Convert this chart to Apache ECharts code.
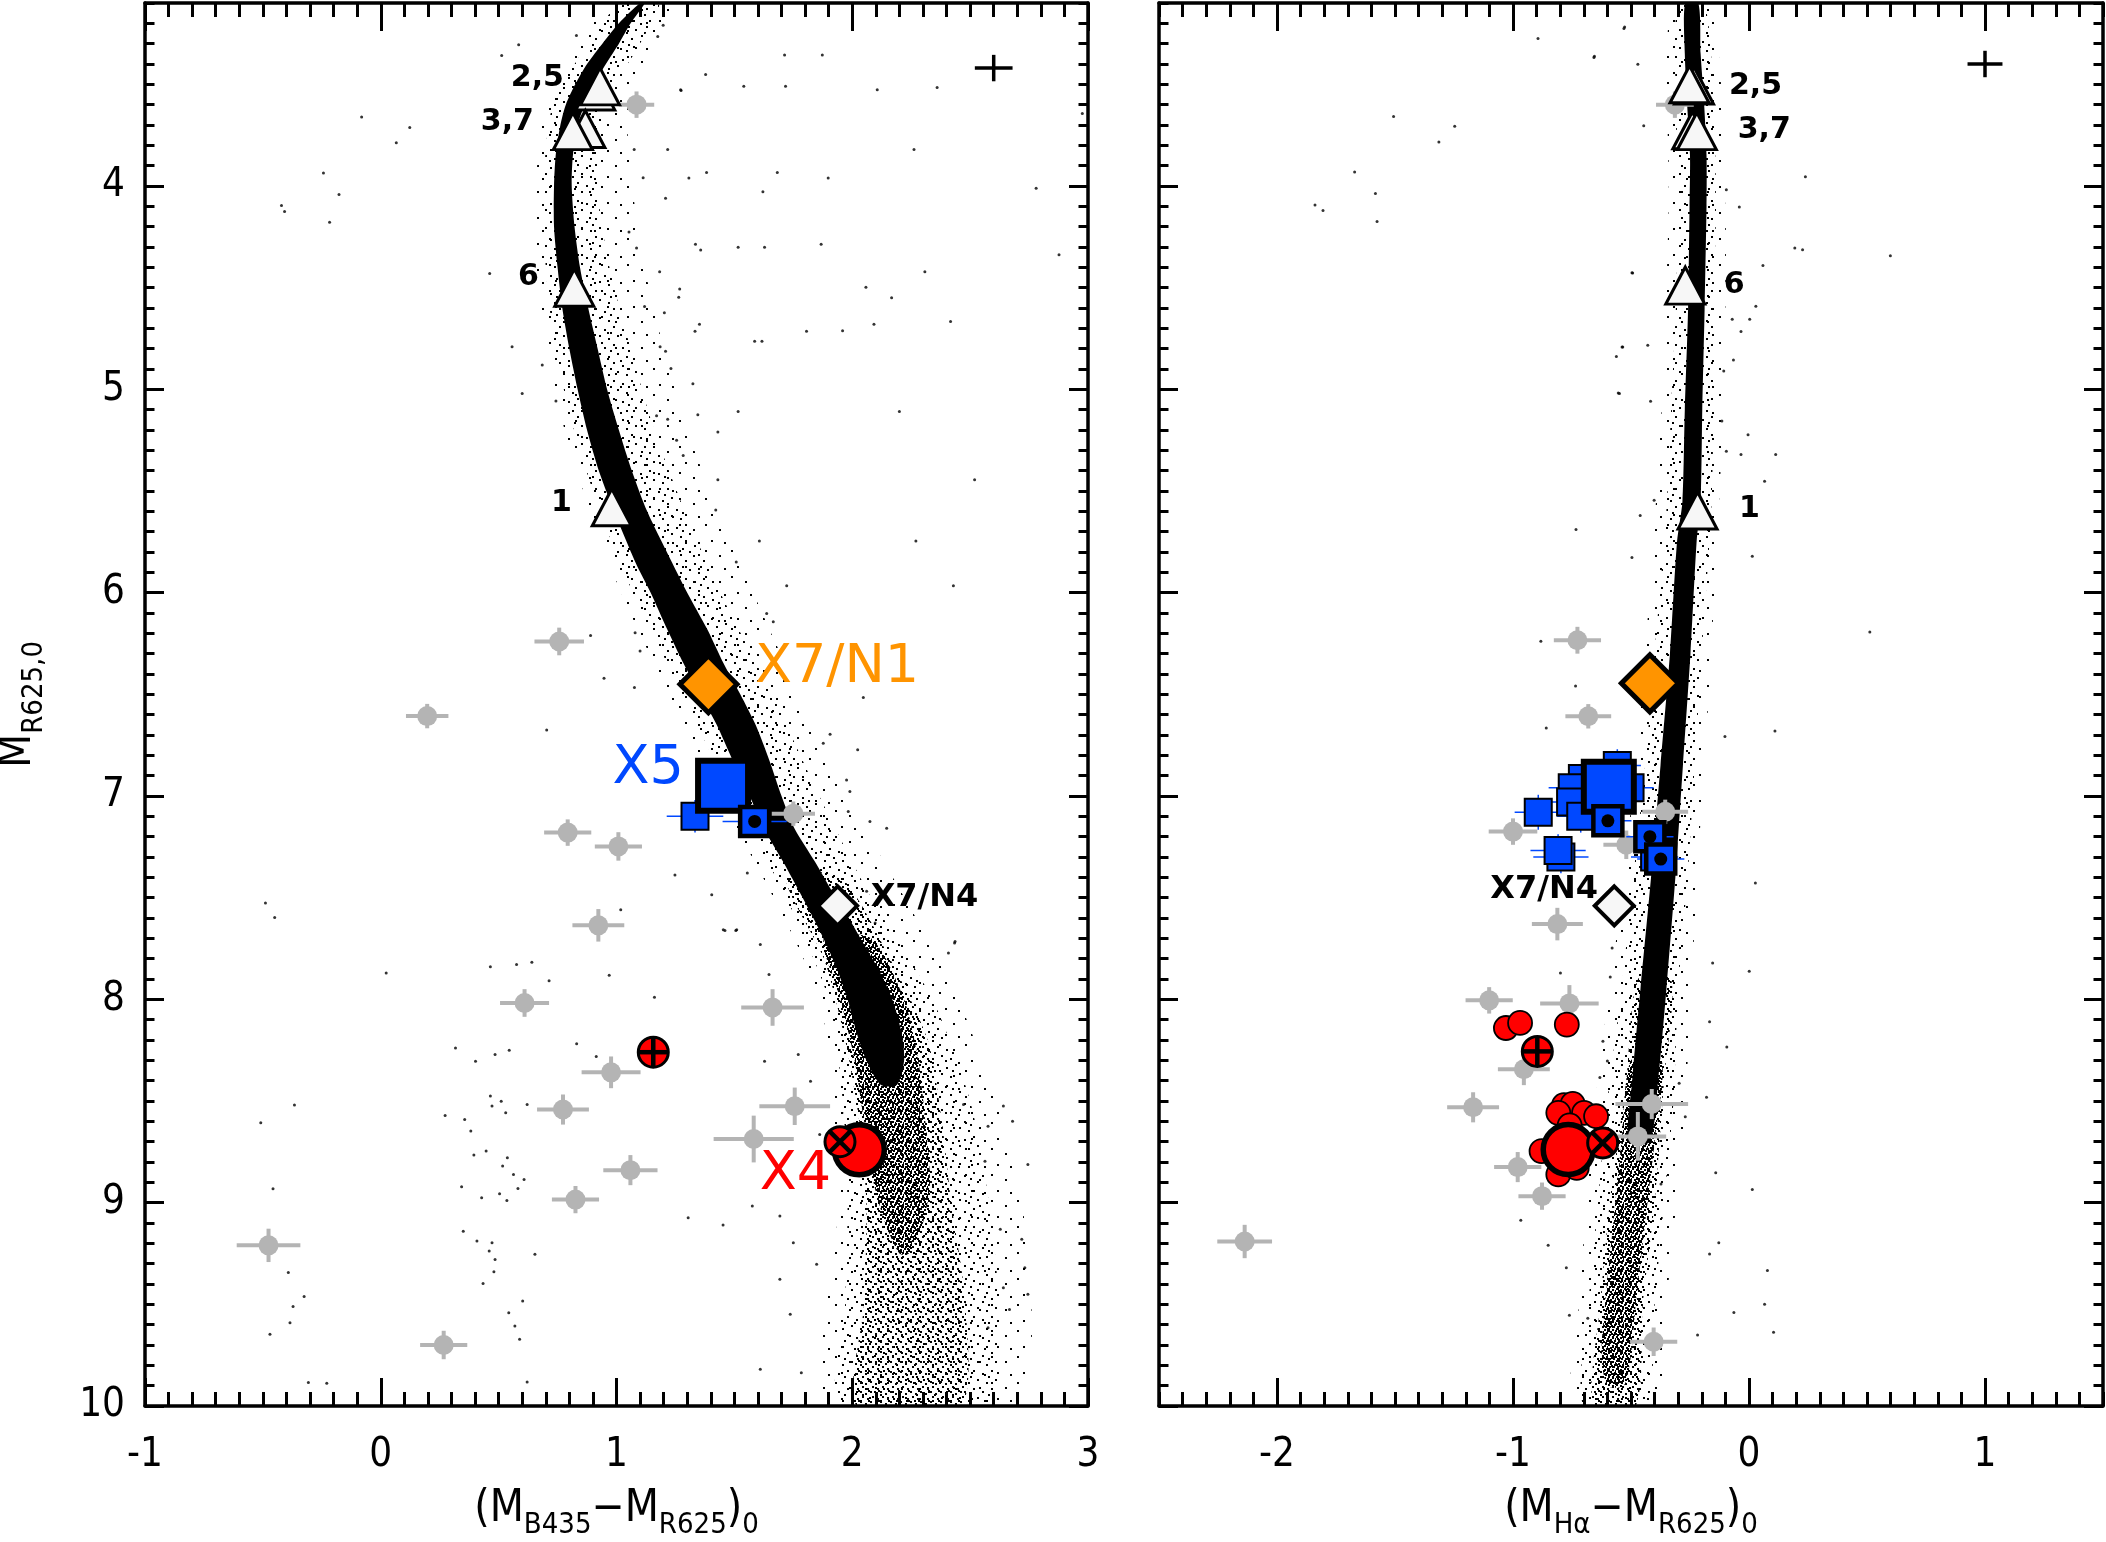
<!DOCTYPE html>
<html><head><meta charset="utf-8">
<script src="https://cdn.jsdelivr.net/npm/echarts@6/dist/echarts.min.js"></script>
<style>html,body{margin:0;padding:0;background:#fff}#c{width:2106px;height:1542px}</style>
</head><body><div id="c"></div>
<script>
// ---------------- DATA ----------------
const LEFT_X_TICKS = [-1, 0, 1, 2, 3];
const RIGHT_X_TICKS = [-2, -1, 0, 1];
const Y_TICKS = [4, 5, 6, 7, 8, 9, 10];

// Main-sequence ridge (solid core) edges, left panel: y, left x, right x
const coreY_L  = [3.10,3.20,3.30,3.40,3.50,3.60,3.70,3.85,4.00,4.20,4.40,4.60,4.80,5.00,5.20,5.40,5.60,5.85,6.00,6.18,6.35,6.50,6.65,6.83,7.00,7.16,7.32,7.49,7.60,7.73,7.85,8.00,8.17,8.30,8.42];
const coreLx_L = [1.10,1.01,0.94,0.875,0.825,0.785,0.762,0.742,0.735,0.735,0.75,0.77,0.80,0.835,0.875,0.925,0.99,1.08,1.145,1.215,1.285,1.355,1.425,1.495,1.565,1.625,1.705,1.785,1.835,1.89,1.935,1.98,2.02,2.06,2.12];
const coreRx_L = [1.12,1.06,1.01,0.955,0.905,0.865,0.835,0.815,0.81,0.822,0.845,0.88,0.92,0.96,1.01,1.065,1.13,1.235,1.30,1.385,1.455,1.525,1.59,1.65,1.70,1.755,1.84,1.925,1.985,2.05,2.11,2.17,2.21,2.22,2.19];
// dense (grainy) lower part
const denseY_L  = [7.70,8.00,8.30,8.60,8.90,9.10,9.25];
const denseLx_L = [1.88,1.95,2.01,2.05,2.09,2.14,2.20];
const denseRx_L = [2.08,2.22,2.28,2.31,2.33,2.30,2.24];
// medium-density lower part
const midY_L  = [7.40,7.80,8.20,8.60,9.00,9.50,10.0];
const midLx_L = [1.72,1.88,1.97,2.03,2.06,2.05,2.02];
const midRx_L = [1.95,2.16,2.32,2.38,2.42,2.48,2.46];
// sparse envelopes
const haloY_L  = [3.10,3.30,3.60,4.00,4.40,4.80,5.20,5.60,6.00,6.50,7.00,7.50,8.00,8.50,9.00,9.50,10.0];
const haloLx_L = [1.02,0.88,0.73,0.69,0.70,0.74,0.82,0.93,1.07,1.28,1.49,1.72,1.90,1.96,1.98,1.97,1.95];
const haloRx_L = [1.18,1.10,0.95,0.92,0.97,1.06,1.16,1.29,1.44,1.66,1.86,2.08,2.34,2.50,2.58,2.62,2.58];
const outerY_L  = [3.10,3.60,4.40,5.20,6.00,7.00,8.00,9.00,10.0];
const outerLx_L = [0.98,0.70,0.66,0.78,1.02,1.44,1.86,1.94,1.90];
const outerRx_L = [1.25,1.05,1.12,1.30,1.58,1.98,2.45,2.72,2.70];

// right panel
const coreY_R  = [3.10,3.35,3.60,3.85,4.10,4.60,5.10,5.55,5.75,6.30,6.85,7.40,7.95,8.40,8.70];
const coreLx_R = [-0.27,-0.272,-0.262,-0.25,-0.252,-0.258,-0.272,-0.282,-0.305,-0.335,-0.375,-0.415,-0.46,-0.495,-0.51];
const coreRx_R = [-0.215,-0.205,-0.19,-0.18,-0.18,-0.188,-0.198,-0.205,-0.222,-0.248,-0.28,-0.312,-0.35,-0.385,-0.42];
const denseY_R  = [8.30,8.70,9.10,9.50,9.75,9.90];
const denseLx_R = [-0.50,-0.54,-0.575,-0.61,-0.625,-0.60];
const denseRx_R = [-0.37,-0.40,-0.44,-0.48,-0.50,-0.53];
const midY_R  = [7.90,8.40,9.00,9.50,10.0];
const midLx_R = [-0.47,-0.52,-0.59,-0.63,-0.66];
const midRx_R = [-0.33,-0.36,-0.40,-0.45,-0.48];
const haloY_R  = [3.10,3.60,4.10,4.60,5.10,5.60,6.30,6.85,7.40,7.95,8.50,9.00,9.50,10.0];
const haloLx_R = [-0.30,-0.31,-0.30,-0.31,-0.33,-0.35,-0.40,-0.44,-0.49,-0.54,-0.60,-0.64,-0.68,-0.70];
const haloRx_R = [-0.19,-0.15,-0.14,-0.15,-0.15,-0.16,-0.20,-0.23,-0.26,-0.30,-0.32,-0.36,-0.40,-0.44];
const outerY_R  = [3.10,4.10,5.10,6.30,7.40,8.50,9.50,10.0];
const outerLx_R = [-0.33,-0.34,-0.37,-0.44,-0.53,-0.65,-0.72,-0.74];
const outerRx_R = [-0.16,-0.10,-0.11,-0.16,-0.22,-0.27,-0.35,-0.40];

// individual field stars
const fieldDots_L = [
 [-0.081,3.661],[0.123,3.712],[0.066,3.787],[-0.243,3.936],[-0.177,4.042],[-0.421,4.096],[-0.408,4.125],[-0.217,4.178],
 [0.462,4.43],[0.557,4.79],[0.60,5.02],[0.685,4.88],[0.743,5.057],[0.585,3.305],[0.513,3.358],[0.83,3.26],[1.175,3.265],
 [1.198,3.21],[1.075,3.82],[1.217,3.82],[1.113,3.96],[1.208,4.06],[1.274,3.53],[1.053,4.226],[1.085,4.305],[1.268,4.507],
 [1.264,4.547],[1.119,4.593],[1.185,4.79],[1.17,5.13],[1.217,5.147],[1.283,5.326],[1.255,5.25],
 [1.713,3.356],[1.873,3.356],[1.378,3.452],[1.54,3.509],[1.717,3.509],[1.272,3.527],[2.106,3.527],[2.36,3.516],[2.976,3.644],
 [2.262,3.82],[1.382,3.934],[1.682,3.934],[1.898,3.961],[1.307,3.961],[1.621,4.028],[2.78,4.011],[1.335,4.286],[1.357,4.315],
 [1.516,4.301],[1.628,4.301],[1.868,4.286],[2.877,4.338],[2.308,4.422],[1.183,4.422],[2.058,4.498],[2.167,4.55],[2.092,4.68],
 [2.417,4.667],[1.806,4.714],[1.959,4.712],[1.586,4.763],[1.617,4.763],[1.352,4.68],[1.333,4.714],[1.203,4.623],[1.208,4.813],
 [1.231,4.897],[1.324,4.972],[1.516,5.109],[2.2,5.109],[1.43,5.21],[1.345,5.125],[1.43,5.445],[2.519,5.445],[1.421,5.593],
 [1.606,5.746],[2.27,5.746],[1.508,5.849],
 [0.89,6.211],[0.947,6.421],[1.076,6.467],[0.704,6.675],[1.079,6.197],[1.10,6.287],[1.637,6.102],[1.665,6.143],[1.722,5.966],
 [2.429,5.966],[2.047,6.516],[1.906,6.696],[1.877,6.74],[2.023,6.773],[1.976,6.921],[1.99,6.978],[2.075,7.125],[2.146,7.158],
 [1.983,7.076],[2.061,7.469],[1.976,7.486],[2.097,7.625],[2.436,7.715],[1.248,7.388],[1.453,7.658],[1.51,7.658],[1.555,7.379],
 [1.018,7.559],[1.404,7.486],
 [-0.489,7.526],[-0.45,7.597],[0.023,7.87],[0.465,7.84],[0.576,7.829],[0.641,7.818],[0.714,7.908],[0.969,7.882],[1.161,7.99],
 [1.46,7.662],[1.506,7.662],[1.61,7.73],[1.647,7.878],[0.317,8.239],[0.402,8.304],[0.485,8.271],[0.545,8.25],[0.831,8.219],
 [0.914,8.281],[0.465,8.476],[0.511,8.501],[0.472,8.525],[0.53,8.558],[0.621,8.517],[0.273,8.571],[0.356,8.591],[0.382,8.648],
 [0.447,8.746],[0.395,8.766],[0.537,8.779],[0.517,8.82],[0.563,8.861],[0.608,8.886],[0.582,8.93],[0.504,8.956],[0.428,8.976],
 [0.343,8.922],[0.535,8.989],[-0.366,8.52],[-0.509,8.607],[-0.457,8.932],[-0.392,9.344],[-0.325,9.462],[-0.372,9.511],
 [-0.385,9.59],[-0.47,9.647],[0.35,9.14],[0.408,9.189],[0.472,9.197],[0.46,9.238],[0.485,9.279],[0.654,9.254],[0.434,9.398],
 [0.48,9.34],[0.602,9.484],[0.543,9.541],[0.569,9.606],[0.589,9.672],[0.621,9.882],[-0.307,9.885],[-0.229,9.888],[1.304,9.074],
 [1.452,9.11],[1.576,9.017],[1.693,9.066],[1.75,9.197],[1.849,9.303],[1.737,9.549],[1.693,9.377],[1.61,9.819],[1.784,9.836],
 [1.628,8.304],[1.771,8.271],[1.862,8.665],[1.823,8.403],
 [2.434,7.723],[2.408,7.772],[2.472,8.517],[2.641,8.525],[2.68,8.599],[2.576,8.624],[2.745,8.812],[2.563,8.796],[2.628,9.131],
 [2.719,9.18],[2.745,9.451],[2.667,9.525],[2.732,9.32],[2.641,9.418],[2.576,9.615]
];
const fieldDots_R = [
 [-0.894,3.274],[-0.657,3.368],[-0.53,3.226],[-1.506,3.658],[-1.247,3.706],[-1.314,3.783],[-1.671,3.931],[-1.583,4.037],
 [-1.839,4.093],[-1.805,4.121],[-1.576,4.174],[-0.496,4.427],[-0.538,4.792],[-0.562,4.838],[-0.554,5.018],[-0.733,5.689],
 [-0.496,5.827],
 [-0.527,3.218],[-0.655,3.362],[-0.471,3.401],[-0.446,3.704],[0.239,3.954],[-0.041,4.103],[-0.096,4.019],[0.194,4.305],
 [0.227,4.313],[0.599,4.343],[0.059,4.391],[-0.493,4.428],[0.029,4.591],[0.003,4.655],[-0.071,4.655],[-0.034,4.716],
 [-0.535,4.792],[-0.429,4.783],[-0.066,4.856],[-0.107,4.91],[-0.549,5.02],[-0.417,5.058],[-0.115,5.156],[-0.004,5.223],
 [0.113,5.321],[-0.034,5.321],[-0.096,5.305],[0.066,5.452],[-0.461,5.621],[-0.402,5.545],
 [0.014,5.821],[0.512,6.193],[0.11,6.68],[-0.102,6.707],[-0.882,6.239],[-0.735,6.459],[-0.859,6.666],[0.027,7.428],
 [0.001,7.862],[-0.154,7.821],[-0.58,7.747],[-0.588,7.89],[-0.799,7.871],[-0.167,8.11],[-0.094,8.234],[-0.296,8.413],
 [-0.18,8.481],[-0.27,8.578],[-0.619,8.206],[-0.6,8.303],[-0.632,8.385],[-0.851,9.21],[-0.967,9.087],[-0.141,8.853],
 [0.014,8.935],[-0.128,9.197],[-0.167,9.252],[0.078,9.334],[0.066,9.499],[-0.064,9.54],[-0.218,9.651],[0.104,9.637],
 [-0.761,9.554],[-0.683,9.568],[-0.774,9.32],[-0.373,8.908]
];

// grey comparison stars with error bars: [x, y, xerr, yerr]
const grey_L = [
 [1.085,3.60,0.075,0.065],[0.757,6.24,0.105,0.068],[0.197,6.607,0.09,0.06],[1.75,7.087,0.092,0.06],[0.793,7.18,0.10,0.065],
 [1.008,7.248,0.10,0.07],[0.923,7.636,0.11,0.08],[0.61,8.018,0.104,0.068],[1.662,8.04,0.133,0.09],[0.977,8.359,0.125,0.078],
 [0.773,8.542,0.11,0.074],[1.756,8.526,0.15,0.092],[1.582,8.687,0.17,0.115],[1.059,8.84,0.115,0.074],[0.826,8.985,0.10,0.067],
 [-0.476,9.21,0.135,0.082],[0.267,9.70,0.10,0.07]
];
const grey_R = [
 [-0.314,3.60,0.08,0.065],[-0.727,6.234,0.10,0.066],[-0.681,6.608,0.097,0.06],[-0.355,7.078,0.097,0.06],[-1.0,7.175,0.103,0.065],
 [-0.52,7.24,0.097,0.07],[-0.812,7.63,0.108,0.08],[-1.101,8.005,0.10,0.065],[-0.761,8.02,0.124,0.09],[-0.954,8.344,0.11,0.078],
 [-1.169,8.531,0.11,0.074],[-0.412,8.515,0.154,0.074],[-0.471,8.674,0.12,0.12],[-0.98,8.825,0.10,0.074],[-0.877,8.968,0.10,0.067],
 [-2.137,9.191,0.116,0.082],[-0.404,9.684,0.10,0.07]
];
// typical-error crosses (top right)
const typErr_L = [[2.60,3.42,0.08,0.065]];
const typErr_R = [[1.00,3.40,0.074,0.065]];

// blue squares (X5 counterparts)
const blueSmall_L = [[1.333,7.10,0.12,0.08]];
const blueBig_L   = [[1.452,6.95]];
const blueDot_L   = [[1.586,7.125,0.136,0.05]];
const blueSmall_R = [[-0.558,6.85,0.1,0.08],[-0.706,6.914,0.1,0.08],[-0.749,6.96,0.1,0.08],[-0.504,6.96,0.1,0.08],
 [-0.756,7.03,0.1,0.08],[-0.893,7.08,0.1,0.086],[-0.713,7.10,0.1,0.08],[-0.797,7.30,0.117,0.08],[-0.809,7.268,0.117,0.08],[-0.40,7.30,0.1,0.08]];
const blueBig_R   = [[-0.594,6.955]];
const blueDot_R   = [[-0.598,7.122,0.1,0.06],[-0.42,7.20,0.1,0.06],[-0.374,7.31,0.1,0.06]];

// red circles (X4 counterparts)
const redSmall_R = [[-1.03,8.141],[-0.97,8.116],[-0.772,8.124],[-0.784,8.52],[-0.747,8.514],[-0.808,8.558],[-0.699,8.558],
 [-0.648,8.575],[-0.76,8.62],[-0.879,8.747],[-0.808,8.861],[-0.730,8.829]];
const redPlus_L = [[1.156,8.26]];
const redPlus_R = [[-0.897,8.256]];
const redBig_L  = [[2.03,8.74]];
const redBig_R  = [[-0.766,8.739]];
const redX_L    = [[1.948,8.70]];
const redX_R    = [[-0.62,8.706]];

// triangles (numbered sources)
const tri_L = [[0.91,3.535],[0.93,3.51],[0.868,3.72],[0.815,3.73],[0.821,4.50],[0.98,5.58]];
const tri_R = [[-0.233,3.506],[-0.252,3.50],[-0.24,3.726],[-0.221,3.73],[-0.27,4.49],[-0.218,5.596]];
const triLabels_L = [['2,5',0.777,3.47],['3,7',0.65,3.685],['6',0.671,4.447],['1',0.811,5.56]];
const triLabels_R = [['2,5',-0.085,3.51],['3,7',-0.048,3.727],['6',-0.107,4.49],['1',-0.042,5.59]];

// diamonds X7/N1 (orange) and X7/N4 (white)
const orange_L = [[1.39,6.45]];
const orange_R = [[-0.42,6.446]];
const white_L  = [[1.938,7.54]];
const white_R  = [[-0.571,7.54]];

// text labels
const nameLabels_L = [['X7/N1',1.587,6.37,'right','orange'],['X5',1.286,6.865,'left','blue'],['X4',1.91,8.865,'left','red'],['X7/N4',2.078,7.50,'right','black']];
const nameLabels_R = [['X7/N4',-0.64,7.46,'left','black']];

// ---------------- STYLE / BUILD ----------------
const FONT = "'Liberation Sans Narrow','DejaVu Sans Condensed','Liberation Sans',sans-serif";
const BFONT = "'DejaVu Sans','Liberation Sans',sans-serif";
const BLUE = '#0048ff', RED = '#ff0000', ORANGE = '#ff9400', GREY = '#b4b4b4';

// stipple textures (styling only)
function stipple(size, marks) {
  const c = document.createElement('canvas'); c.width = c.height = size;
  const g = c.getContext('2d'); g.fillStyle = '#000';
  marks.forEach(m => g.fillRect(m[0], m[1], 2, 2));
  return { type: 'pattern', image: c, repeat: 'repeat' };
}
const VSPARSE = stipple(26, [[3,4],[17,9],[9,20],[22,22]]);
const SPARSE = stipple(18, [[1,2],[10,5],[5,11],[14,14],[16,8]]);
const MEDIUM = stipple(10, [[0,1],[5,3],[2,6],[7,8],[8,0]]);
const DENSE = stipple(8, [[0,0],[4,1],[2,3],[6,4],[1,6],[5,6],[3,5],[7,2]]);

function minorVals(a, b) { const o = []; for (let k = Math.round(a * 10); k <= Math.round(b * 10); k++) { if (k % 10 !== 0) o.push(k / 10); } return o; }

const nameStyle = {
  fontFamily: FONT, color: '#000', fontSize: 44,
  rich: { m: { fontFamily: FONT, fontSize: 44, lineHeight: 60, verticalAlign: 'middle', color: '#000' },
          s: { fontFamily: FONT, fontSize: 29, lineHeight: 30, verticalAlign: 'bottom', color: '#000' } }
};

function axis(kind, grid, min, max, pos, ticks, len, showLine, labels, name, inverse) {
  const a = {
    type: 'value', gridIndex: grid, min, max, position: pos, inverse: !!inverse,
    axisLine: { show: showLine, onZero: false, lineStyle: { color: '#000', width: 3.5 } },
    axisTick: { show: true, inside: true, length: len, customValues: ticks, lineStyle: { color: '#000', width: 3 } },
    axisLabel: { show: !!labels, customValues: labels || undefined, color: '#000', fontFamily: FONT, fontSize: 40,
                 margin: kind === 'x' ? 30 : 20 },
    splitLine: { show: false }
  };
  if (name) {
    a.name = name; a.nameLocation = 'middle'; a.nameTextStyle = nameStyle;
    a.nameGap = kind === 'x' ? 74 : 96;
  }
  return a;
}

const xAxes = [], yAxes = [];
function panel(grid, xmin, xmax, xTicks, xName, yLabels) {
  xAxes.push(axis('x', grid, xmin, xmax, 'bottom', xTicks, 28, true, xTicks, xName));
  xAxes.push(axis('x', grid, xmin, xmax, 'bottom', minorVals(xmin, xmax), 14, false));
  xAxes.push(axis('x', grid, xmin, xmax, 'top', xTicks, 28, true));
  xAxes.push(axis('x', grid, xmin, xmax, 'top', minorVals(xmin, xmax), 14, false));
  yAxes.push(axis('y', grid, 3.1, 10, 'left', Y_TICKS, 19, true, yLabels ? Y_TICKS : null, yLabels ? '{m|M}{s|R625,0}' : null, true));
  yAxes.push(axis('y', grid, 3.1, 10, 'left', minorVals(3.1, 10), 9.5, false, null, null, true));
  yAxes.push(axis('y', grid, 3.1, 10, 'right', Y_TICKS, 19, true, null, null, true));
  yAxes.push(axis('y', grid, 3.1, 10, 'right', minorVals(3.1, 10), 9.5, false, null, null, true));
}
panel(0, -1, 3, LEFT_X_TICKS, '{m|(M}{s|B435}{m|−M}{s|R625}{m|)}{s|0}', true);
panel(1, -2.5, 1.5, RIGHT_X_TICKS, '{m|(M}{s|Hα}{m|−M}{s|R625}{m|)}{s|0}', false);

function band(ax, ys, lx, rx, fill, z) {
  const pts = [];
  for (let i = 0; i < ys.length; i++) pts.push([lx[i], ys[i]]);
  for (let i = ys.length - 1; i >= 0; i--) pts.push([rx[i], ys[i]]);
  return { type: 'custom', xAxisIndex: ax, yAxisIndex: ax, data: pts, z, silent: true, clip: true,
    encode: { x: 0, y: 1 },
    renderItem: (p, api) => {
      if (p.dataIndex !== 0) return null;
      return { type: 'polygon', shape: { points: pts.map(q => api.coord(q)), smooth: 0.25 }, style: { fill } };
    } };
}
function dots(ax, data) {
  return { type: 'scatter', xAxisIndex: ax, yAxisIndex: ax, data, symbolSize: 3, z: 3, silent: true,
    itemStyle: { color: '#000' } };
}
function errs(ax, data, color, lw, dotR, z) {
  return { type: 'custom', xAxisIndex: ax, yAxisIndex: ax, data, z, silent: true, encode: { x: 0, y: 1 },
    renderItem: (p, api) => {
      const x = api.value(0), y = api.value(1), ex = api.value(2), ey = api.value(3);
      const c = api.coord([x, y]), l = api.coord([x - ex, y]), r = api.coord([x + ex, y]);
      const t = api.coord([x, y - ey]), b = api.coord([x, y + ey]);
      const ch = [
        { type: 'line', shape: { x1: l[0], y1: c[1], x2: r[0], y2: c[1] }, style: { stroke: color, lineWidth: lw } },
        { type: 'line', shape: { x1: c[0], y1: t[1], x2: c[0], y2: b[1] }, style: { stroke: color, lineWidth: lw } }];
      if (dotR) ch.push({ type: 'circle', shape: { cx: c[0], cy: c[1], r: dotR }, style: { fill: color } });
      return { type: 'group', children: ch };
    } };
}
function sym(ax, data, symbol, size, fill, bw, z) {
  return { type: 'scatter', xAxisIndex: ax, yAxisIndex: ax, data, symbol, symbolSize: size, z, silent: true,
    itemStyle: { color: fill, borderColor: '#000', borderWidth: bw, opacity: 1 } };
}
function dotSquares(ax, data, z) {
  return { type: 'custom', xAxisIndex: ax, yAxisIndex: ax, data, z, silent: true, encode: { x: 0, y: 1 },
    renderItem: (p, api) => {
      const c = api.coord([api.value(0), api.value(1)]), s = 29;
      return { type: 'group', children: [
        { type: 'rect', shape: { x: c[0] - s / 2, y: c[1] - s / 2, width: s, height: s }, style: { fill: BLUE, stroke: '#000', lineWidth: 4.5 } },
        { type: 'circle', shape: { cx: c[0], cy: c[1], r: 6.5 }, style: { fill: '#000' } }] };
    } };
}
function crossCircles(ax, data, diag, z) {
  return { type: 'custom', xAxisIndex: ax, yAxisIndex: ax, data, z, silent: true, encode: { x: 0, y: 1 },
    renderItem: (p, api) => {
      const c = api.coord([api.value(0), api.value(1)]), r = 15;
      const d = diag ? r * 0.72 : 0;
      const lines = diag
        ? [[c[0] - d, c[1] - d, c[0] + d, c[1] + d], [c[0] - d, c[1] + d, c[0] + d, c[1] - d]]
        : [[c[0] - r, c[1], c[0] + r, c[1]], [c[0], c[1] - r, c[0], c[1] + r]];
      return { type: 'group', children: [
        { type: 'circle', shape: { cx: c[0], cy: c[1], r }, style: { fill: RED, stroke: '#000', lineWidth: 3 } }]
        .concat(lines.map(L => ({ type: 'line', shape: { x1: L[0], y1: L[1], x2: L[2], y2: L[3] }, style: { stroke: '#000', lineWidth: 4.5 } }))) };
    } };
}
const labelColors = { orange: ORANGE, blue: BLUE, red: RED, black: '#000000' };
function texts(ax, items, side, font, size, weight, colorKey) {
  return { type: 'scatter', xAxisIndex: ax, yAxisIndex: ax, symbolSize: 0, z: 30, silent: true,
    itemStyle: { color: '#000' },
    data: items.map(it => ({ value: [it[1], it[2]], label: { show: true, formatter: it[0], position: it[3] || side, distance: 0,
      color: labelColors[it[4] || colorKey], opacity: 1, textBorderWidth: 0, fontFamily: font,
      fontSize: (it[4] === 'black' ? 32 : size), fontWeight: (it[4] === 'black' ? 'bold' : weight) } })) };
}

const series = [];
function panelSeries(ax, P) {
  series.push(band(ax, P.oY, P.oL, P.oR, VSPARSE, 1));
  series.push(band(ax, P.hY, P.hL, P.hR, SPARSE, 1));
  series.push(band(ax, P.mY, P.mL, P.mR, MEDIUM, 1));
  series.push(band(ax, P.dY, P.dL, P.dR, DENSE, 1));
  series.push(band(ax, P.cY, P.cL, P.cR, '#000', 2));
  series.push(dots(ax, P.dots));
  series.push(errs(ax, P.grey, GREY, 4, 10, 4));
  series.push(errs(ax, P.typ, '#000', 3.5, 0, 4));
  series.push(errs(ax, P.bSmall, BLUE, 1.5, 0, 5));
  series.push(errs(ax, P.bDot, BLUE, 1.5, 0, 5));
  series.push(sym(ax, P.bSmall, 'rect', 27, BLUE, 2, 6));
  series.push(sym(ax, P.bBig, 'rect', 50, BLUE, 6, 7));
  series.push(dotSquares(ax, P.bDot, 8));
  if (P.rSmall) series.push(sym(ax, P.rSmall, 'circle', 24, RED, 1.8, 6));
  series.push(crossCircles(ax, P.rPlus, false, 8));
  series.push(sym(ax, P.rBig, 'circle', 50, RED, 5.5, 7));
  series.push(crossCircles(ax, P.rX, true, 9));
  series.push(sym(ax, P.tri, 'triangle', [39, 37], '#f7f7f7', 3, 10));
  series.push(sym(ax, P.orange, 'diamond', 57, ORANGE, 5, 10));
  series.push(sym(ax, P.white, 'diamond', 39, '#f7f7f7', 4, 10));
}
panelSeries(0, { oY: outerY_L, oL: outerLx_L, oR: outerRx_L, hY: haloY_L, hL: haloLx_L, hR: haloRx_L, mY: midY_L, mL: midLx_L, mR: midRx_L,
  dY: denseY_L, dL: denseLx_L, dR: denseRx_L, cY: coreY_L, cL: coreLx_L, cR: coreRx_L, dots: fieldDots_L,
  grey: grey_L, typ: typErr_L, bSmall: blueSmall_L, bBig: blueBig_L, bDot: blueDot_L, rSmall: null, rPlus: redPlus_L,
  rBig: redBig_L, rX: redX_L, tri: tri_L, orange: orange_L, white: white_L });
panelSeries(4, { oY: outerY_R, oL: outerLx_R, oR: outerRx_R, hY: haloY_R, hL: haloLx_R, hR: haloRx_R, mY: midY_R, mL: midLx_R, mR: midRx_R,
  dY: denseY_R, dL: denseLx_R, dR: denseRx_R, cY: coreY_R, cL: coreLx_R, cR: coreRx_R, dots: fieldDots_R,
  grey: grey_R, typ: typErr_R, bSmall: blueSmall_R, bBig: blueBig_R, bDot: blueDot_R, rSmall: redSmall_R, rPlus: redPlus_R,
  rBig: redBig_R, rX: redX_R, tri: tri_R, orange: orange_R, white: white_R });
series.push(texts(0, triLabels_L, 'left', BFONT, 30, 'bold', 'black'));
series.push(texts(4, triLabels_R, 'right', BFONT, 30, 'bold', 'black'));
series.push(texts(0, nameLabels_L, 'right', BFONT, 54, 'normal', 'black'));
series.push(texts(4, nameLabels_R, 'left', BFONT, 54, 'normal', 'black'));

const chart = echarts.init(document.getElementById('c'), null, { renderer: 'canvas' });
chart.setOption({
  animation: false,
  backgroundColor: '#fff',
  grid: [
    { left: 145, top: 3, width: 943, height: 1403, containLabel: false, outerBoundsMode: 'none' },
    { left: 1159, top: 3, width: 944, height: 1403, containLabel: false, outerBoundsMode: 'none' }
  ],
  xAxis: xAxes,
  yAxis: yAxes,
  series
});
</script></body></html>
